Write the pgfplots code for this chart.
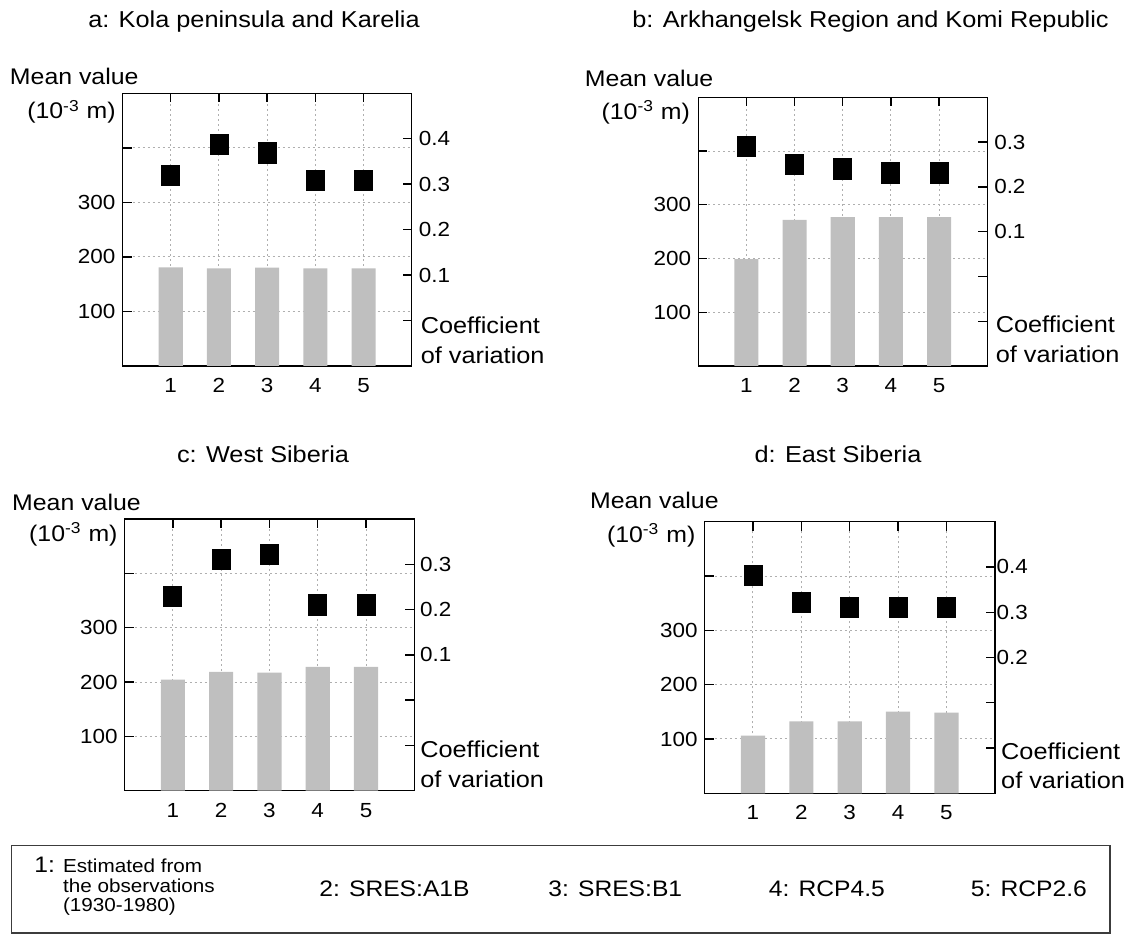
\documentclass[border=0pt]{standalone}
\usepackage{pgfplots}
\pgfplotsset{compat=1.18}
\usepackage{fontspec}
\setmainfont{Liberation Sans}[FakeStretch=1.1]
\definecolor{barcol}{RGB}{191,191,191}
\definecolor{gridcol}{RGB}{175,175,175}
\definecolor{boxcol}{RGB}{60,60,60}
\pgfplotsset{
  common/.style={
    anchor=north west, scale only axis,
    xmin=0, xmax=6,
    tick align=inside, major tick length=4.5pt,
    axis line style={line width=0.7pt, black},
    tick style={line width=0.7pt, black},
    ticklabel style={font=\fontsize{10.2}{12}\selectfont},
  },
  leftax/.style={
    common,
    ymin=0, ymax=500,
    xtick={1,2,3,4,5}, xticklabels={1,2,3,4,5},
    ytick={100,200,300,400}, yticklabels={100,200,300,},
    xtick pos=right, xticklabel pos=left, ytick pos=left, yticklabel pos=left,
    grid=major, grid style={gridcol, line width=0.5pt, dash pattern=on 1pt off 1.5pt},
    xticklabel style={anchor=base, yshift=-13.3pt},
  },
  rightax/.style={
    common, clip=false,
    hide x axis, ytick pos=right, yticklabel pos=right,
  },
  barplot/.style={ybar, bar width=0.5, fill=barcol, draw=none},
  sqplot/.style={only marks, mark=square*, mark size=4.5pt,
    mark options={fill=black, draw=none, yscale=1.13}},
}
\tikzset{
  coefnode/.style={anchor=south west, align=left, inner sep=0pt,
    font=\fontsize{11.5}{14.75}\selectfont},
}
\begin{document}
\begin{tikzpicture}
\path[use as bounding box] (0,0) rectangle (566.5pt,-468pt);

% ---------- a ----------
\begin{axis}[leftax, at={(61.25pt,-46.65pt)}, width=144.65pt, height=136.35pt]
\addplot[barplot] coordinates {(1,181) (2,179) (3,180.4) (4,179) (5,179)};
\end{axis}
\begin{axis}[rightax, at={(61.25pt,-46.65pt)}, width=144.65pt, height=136.35pt,
  ymin=-0.1, ymax=0.5, ytick={0,0.1,0.2,0.3,0.4}, yticklabels={,0.1,0.2,0.3,0.4}]
\addplot[sqplot] coordinates {(1,0.320) (2,0.388) (3,0.369) (4,0.309) (5,0.309)};
\node[coefnode] at (rel axis cs:1,0) [xshift=4.3pt, yshift=1pt] {Coefficient\\of variation};
\end{axis}

% ---------- b ----------
\begin{axis}[leftax, at={(349.1pt,-48.65pt)}, width=144.5pt, height=134.35pt]
\addplot[barplot] coordinates {(1,199) (2,272) (3,277) (4,277) (5,277)};
\end{axis}
\begin{axis}[rightax, at={(349.1pt,-48.65pt)}, width=144.5pt, height=134.35pt,
  ymin=-0.2, ymax=0.4, ytick={-0.1,0,0.1,0.2,0.3}, yticklabels={,,0.1,0.2,0.3}]
\addplot[sqplot] coordinates {(1,0.290) (2,0.250) (3,0.240) (4,0.231) (5,0.231)};
\node[coefnode] at (rel axis cs:1,0) [xshift=4.1pt, yshift=1.5pt] {Coefficient\\of variation};
\end{axis}

% ---------- c ----------
\begin{axis}[leftax, at={(62.3pt,-259.5pt)}, width=144.85pt, height=135.85pt]
\addplot[barplot] coordinates {(1,204.6) (2,218.5) (3,217.4) (4,227.7) (5,227.7)};
\end{axis}
\begin{axis}[rightax, at={(62.3pt,-259.5pt)}, width=144.85pt, height=135.85pt,
  ymin=-0.2, ymax=0.4, ytick={-0.1,0,0.1,0.2,0.3}, yticklabels={,,0.1,0.2,0.3},
  yticklabel style={xshift=-0.6pt}]
\addplot[sqplot] coordinates {(1,0.229) (2,0.311) (3,0.322) (4,0.210) (5,0.210)};
\node[coefnode] at (rel axis cs:1,0) [xshift=2.8pt, yshift=1.3pt] {Coefficient\\of variation};
\end{axis}

% ---------- d ----------
\begin{axis}[leftax, at={(352.3pt,-260.85pt)}, width=145.1pt, height=135.8pt]
\addplot[barplot] coordinates {(1,106) (2,132.6) (3,132.6) (4,150.3) (5,148.4)};
\end{axis}
\begin{axis}[rightax, at={(352.3pt,-260.85pt)}, width=145.1pt, height=135.8pt,
  ymin=-0.1, ymax=0.5, ytick={0,0.1,0.2,0.3,0.4}, yticklabels={,,0.2,0.3,0.4},
  yticklabel style={xshift=-2.6pt}]
\addplot[sqplot] coordinates {(1,0.382) (2,0.321) (3,0.310) (4,0.310) (5,0.310)};
\node[coefnode] at (rel axis cs:1,0) [xshift=3pt, yshift=2pt] {Coefficient\\of variation};
\end{axis}

% ---------- texts ----------
\begin{scope}[x=0.5pt, y=-0.5pt]
\tikzset{ttl/.style={anchor=base, inner sep=0pt, font=\fontsize{11.5}{14}\selectfont},
         mv/.style={anchor=base west, inner sep=0pt, font=\fontsize{11.3}{14}\selectfont},
         un/.style={anchor=base east, inner sep=0pt, font=\fontsize{11.3}{14}\selectfont},
         lg/.style={anchor=base west, inner sep=0pt, font=\fontsize{11.2}{14}\selectfont},
         sm/.style={anchor=base west, inner sep=0pt, font=\fontsize{9.4}{11}\selectfont}}
\node[ttl] at (254,27.3) {a: Kola peninsula and Karelia};
\node[ttl] at (870.5,27.3) {b: Arkhangelsk Region and Komi Republic};
\node[ttl] at (263,462.3) {c: West Siberia};
\node[ttl] at (838,462.3) {d: East Siberia};

\node[mv] at (9.6,85) {Mean value};
\node[un] at (116,119) {(10\textsuperscript{-3} m)};
\node[mv] at (584.4,86.7) {Mean value};
\node[un] at (690.3,119.3) {(10\textsuperscript{-3} m)};
\node[mv] at (11.8,510) {Mean value};
\node[un] at (117.9,541.7) {(10\textsuperscript{-3} m)};
\node[mv] at (589.7,508) {Mean value};
\node[un] at (695.7,542.7) {(10\textsuperscript{-3} m)};

\draw[boxcol, line width=0.75pt] (11.7,845.5) rectangle (1110,933);
\node[lg] at (34,872.5) {1:};
\node[sm] at (62.7,872.5) {Estimated from};
\node[sm] at (62.7,892) {the observations};
\node[sm] at (62.7,911.5) {(1930-1980)};
\node[lg] at (319,896) {2: SRES:A1B};
\node[lg] at (548,896) {3: SRES:B1};
\node[lg] at (768.5,896) {4: RCP4.5};
\node[lg] at (970.5,896) {5: RCP2.6};
\end{scope}
\end{tikzpicture}
\end{document}
